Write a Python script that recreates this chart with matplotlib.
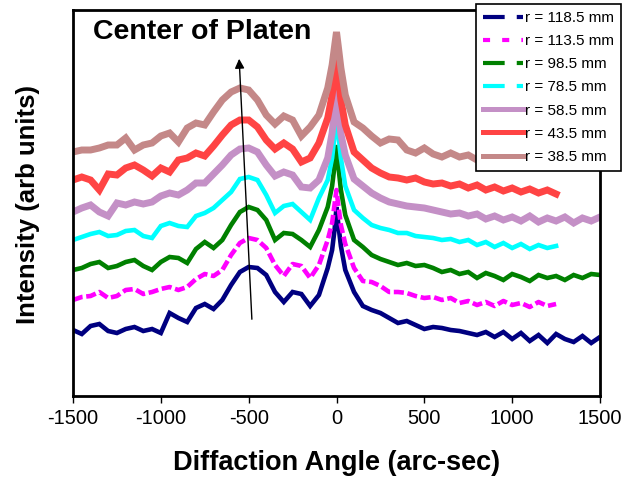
import matplotlib
matplotlib.use("Agg")
import matplotlib.pyplot as plt
from matplotlib.lines import Line2D
import numpy as np

# diffraction angle (arc-sec); wings every 50, denser around the peak
angle = [-1500, -1450, -1400, -1350, -1300, -1250, -1200, -1150, -1100, -1050,
         -1000, -950, -900, -850, -800, -750, -700, -650, -600, -550,
         -500, -450, -400, -350, -300, -250, -200, -150, -100, -50,
         -25, -10, 0, 10, 25, 50, 100, 150, 200, 250,
         300, 350, 400, 450, 500, 550, 600, 650, 700, 750,
         800, 850, 900, 950, 1000, 1050, 1100, 1150, 1200, 1250,
         1300, 1350, 1400, 1450, 1500]

# intensities (arb units, stacked)
r118 = [66, 62, 70, 72, 65, 63, 67, 69, 65, 67,
        63, 83, 78, 74, 88, 92, 87, 96, 111, 124,
        129, 128, 121, 104, 94, 104, 102, 90, 101, 128,
        146, 168, 189, 172, 150, 126, 104, 90, 86, 83,
        78, 73, 75, 71, 67, 69, 68, 66, 65, 63,
        61, 64, 59, 64, 57, 63, 55, 61, 53, 62,
        57, 54, 60, 53, 59]
r113 = [96, 99, 100, 104, 98, 100, 106, 107, 102, 104,
        107, 109, 106, 109, 117, 122, 120, 126, 141, 153,
        158, 156, 148, 131, 120, 132, 130, 118, 131, 156,
        173, 193, 206, 191, 171, 152, 128, 115, 114, 110,
        104, 104, 103, 100, 98, 99, 96, 98, 93, 95,
        91, 94, 90, 95, 91, 93, 89, 94, 90, 92]
r98 = [126, 128, 132, 134, 128, 130, 134, 136, 130, 126,
       134, 139, 138, 133, 147, 154, 148, 156, 171, 184,
       189, 186, 176, 156, 163, 162, 156, 149, 166, 189,
       210, 232, 251, 231, 206, 181, 156, 149, 141, 137,
       134, 131, 133, 130, 131, 128, 124, 126, 122, 124,
       118, 123, 120, 116, 122, 119, 115, 121, 118, 120,
       116, 121, 118, 122, 121]
r78 = [156, 159, 162, 164, 160, 161, 165, 166, 160, 158,
       170, 173, 170, 169, 180, 183, 188, 196, 204, 217,
       219, 216, 201, 183, 190, 192, 184, 176, 198, 216,
       238, 262, 283, 262, 238, 210, 186, 178, 171, 168,
       166, 163, 163, 160, 159, 158, 156, 157, 154, 156,
       151, 154, 149, 153, 148, 152, 147, 151, 148, 150]
r58 = [184, 188, 191, 184, 180, 193, 191, 194, 192, 194,
       200, 203, 201, 206, 213, 213, 222, 231, 241, 247,
       248, 244, 231, 220, 224, 221, 209, 208, 216, 238,
       263, 288, 309, 287, 262, 241, 217, 210, 203, 198,
       194, 192, 190, 189, 188, 186, 184, 182, 183, 180,
       182, 177, 180, 176, 179, 175, 180, 174, 178, 175,
       179, 173, 178, 175, 179]
r43 = [216, 219, 216, 206, 222, 221, 228, 231, 226, 220,
       228, 224, 236, 238, 243, 240, 250, 261, 271, 276,
       276, 269, 256, 247, 253, 247, 234, 238, 253, 278,
       301, 321, 339, 321, 296, 271, 244, 236, 228, 223,
       219, 218, 216, 218, 214, 212, 213, 210, 212, 208,
       211, 206, 209, 205, 208, 204, 207, 203, 206, 202]
r38 = [244, 246, 246, 248, 251, 251, 258, 246, 251, 253,
       260, 263, 254, 268, 273, 271, 284, 296, 304, 308,
       306, 296, 281, 272, 280, 276, 260, 269, 281, 308,
       331, 351, 364, 350, 328, 301, 274, 268, 260, 253,
       257, 256, 246, 243, 248, 242, 239, 243, 239, 241,
       236, 239, 235, 238, 234, 237, 233, 236, 232, 235]

series = [
    ("r = 118.5 mm", r118, "#000080", "solid", 3.3),
    ("r = 113.5 mm", r113, "#FF00FF", "dashed", 3.3),
    ("r = 98.5 mm", r98, "#008000", "solid", 3.3),
    ("r = 78.5 mm", r78, "#00FFFF", "solid", 3.3),
    ("r = 58.5 mm", r58, "#C490C6", "solid", 5.0),
    ("r = 43.5 mm", r43, "#FF4444", "solid", 5.0),
    ("r = 38.5 mm", r38, "#C48888", "solid", 5.0),
]

plt.rcParams["font.family"] = ["Liberation Sans", "DejaVu Sans"]
plt.rcParams["axes.unicode_minus"] = False

fig = plt.figure(figsize=(6.36, 4.78), dpi=100)
ax = fig.add_axes([73 / 636, 1 - 396 / 478, 527 / 636, 386 / 478])

handles = []
for label, vals, color, style, lw in series:
    xs = angle[:len(vals)]
    ln, = ax.plot(xs, vals, color=color, lw=lw, solid_joinstyle="miter")
    if style == "dashed":
        ln.set_dashes((2.2, 0.8))
        h = Line2D([], [], color=color, lw=3.0, dashes=(1.7, 2.9))
    elif lw < 4:
        h = Line2D([], [], color=color, lw=3.0, dashes=(5.2, 2.9, 1.7, 30))
    else:
        h = Line2D([], [], color=color, lw=3.6)
    handles.append(h)

ax.set_xlim(-1500, 1500)
ax.set_ylim(0, 386)
ax.set_xticks(np.arange(-1500, 1501, 500))
ax.set_yticks([])
ax.tick_params(axis="x", direction="out", length=5, width=1, labelsize=14.5, pad=4)
for sp in ax.spines.values():
    sp.set_linewidth(2)

# arrow toward center of platen
ax.annotate("", xy=(-555, 340), xytext=(-481, 74),
            arrowprops=dict(arrowstyle="-|>", color="black", lw=1, mutation_scale=14))
fig.text(93 / 636, 1 - 32 / 478, "Center of Platen", fontsize=20.5, fontweight="bold",
         ha="left", va="center")

fig.text(337 / 636, 1 - 463 / 478, "Diffaction Angle (arc-sec)", fontsize=19.5,
         fontweight="bold", ha="center", va="center")
fig.text(28 / 636, 1 - 205 / 478, "Intensity (arb units)", fontsize=18.5,
         fontweight="bold", ha="center", va="center", rotation=90)

leg = fig.legend(handles, [s[0] for s in series], loc="upper left",
                 bbox_to_anchor=(476 / 636, 1 - 4 / 478), fontsize=11,
                 handlelength=2.6, handletextpad=0.15, labelspacing=0.6,
                 borderpad=0.45, borderaxespad=0, fancybox=False, framealpha=1,
                 edgecolor="black")
leg.get_frame().set_linewidth(1.2)

fig.savefig("out.png", dpi=100)
